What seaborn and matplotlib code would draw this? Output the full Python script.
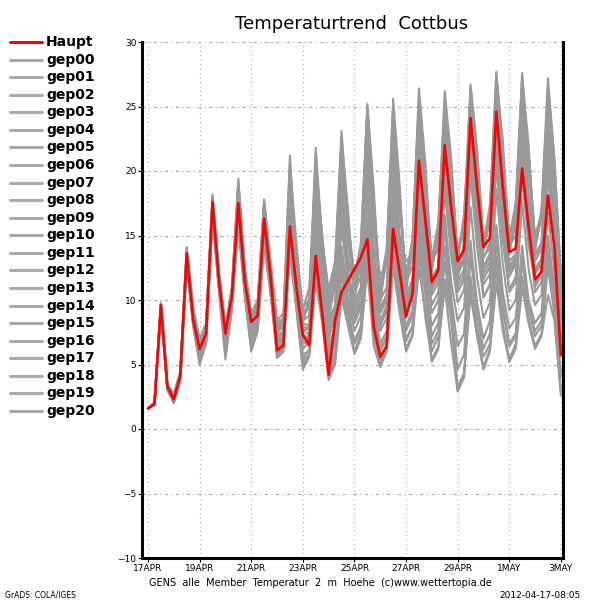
import pandas as pd
import matplotlib
matplotlib.use("Agg")
import matplotlib.pyplot as plt
from matplotlib.lines import Line2D
import seaborn as sns

# 6-hourly ensemble run, 17 Apr 00Z .. 3 May 00Z
times = pd.date_range("2012-04-17 00:00", periods=65, freq="6h")
tick_dates = pd.date_range("2012-04-17", "2012-05-03", freq="2D")
tick_labels = ["17APR", "19APR", "21APR", "23APR", "25APR", "27APR", "29APR", "1MAY", "3MAY"]
y_ticks = [-10, -5, 0, 5, 10, 15, 20, 25, 30]

haupt = [1.6, 1.9, 9.6, 3.3, 2.3, 4.1, 13.6, 8.5, 6.2, 7.4, 17.6, 11.5, 7.4, 10.3, 17.5, 11.5,
         8.3, 8.8, 16.3, 11.8, 6.1, 6.5, 15.7, 11.0, 7.3, 6.5, 13.4, 9.0, 4.2, 8.4, 10.6, 11.5,
         12.4, 13.3, 14.7, 7.9, 5.6, 6.4, 15.5, 12.2, 8.7, 10.5, 20.8, 16.2, 11.4, 12.3, 22.0, 17.2,
         13.0, 13.9, 24.1, 18.8, 14.1, 14.8, 24.6, 18.8, 13.7, 14.0, 20.2, 15.7, 11.6, 12.2, 18.1, 14.1,
         5.7]

gep00 = [1.6, 2.0, 9.4, 3.2, 2.4, 4.2, 13.2, 8.6, 6.4, 7.6, 17.2, 11.2, 7.8, 10.6, 18.4, 12.0,
         8.6, 9.2, 16.8, 12.2, 7.0, 7.4, 17.2, 11.8, 8.0, 7.6, 16.4, 10.6, 6.8, 9.6, 18.2, 11.4,
         8.4, 9.8, 19.6, 12.6, 9.2, 10.4, 21.4, 14.2, 10.2, 11.4, 20.6, 15.0, 11.8, 12.6, 23.2, 16.4,
         12.4, 13.0, 21.8, 15.6, 11.2, 12.0, 22.6, 16.8, 12.6, 13.4, 24.8, 17.6, 12.0, 12.8, 21.4, 14.6,
         9.2]
gep01 = [1.6, 2.1, 9.8, 3.4, 2.6, 4.4, 14.0, 9.0, 6.8, 8.0, 18.0, 11.8, 8.0, 10.8, 19.2, 12.4,
         8.8, 9.6, 17.6, 12.8, 7.6, 8.2, 20.4, 13.0, 8.8, 9.4, 21.4, 13.2, 9.6, 12.6, 22.6, 17.0,
         10.4, 14.0, 25.2, 18.6, 9.8, 13.6, 25.6, 19.0, 10.6, 14.4, 26.4, 20.6, 12.2, 15.6, 26.2, 21.0,
         13.0, 16.4, 26.5, 21.6, 14.2, 17.4, 27.5, 22.4, 14.6, 17.6, 27.4, 22.0, 14.4, 17.0, 27.2, 21.0,
         11.6]
gep02 = [1.6, 1.9, 9.2, 3.0, 2.1, 3.9, 12.9, 8.2, 5.2, 6.8, 16.6, 10.8, 6.2, 9.4, 16.0, 10.6,
         6.4, 8.0, 14.6, 10.8, 5.6, 6.4, 14.2, 9.6, 4.8, 5.8, 12.2, 8.6, 4.0, 5.4, 11.0, 8.4,
         6.0, 7.4, 13.2, 7.2, 5.0, 6.2, 13.8, 9.4, 6.2, 7.4, 14.6, 10.4, 6.0, 7.2, 13.0, 8.8,
         3.2, 4.4, 11.4, 7.4, 4.8, 6.2, 12.4, 8.2, 5.4, 6.6, 11.8, 8.6, 6.4, 7.4, 12.6, 8.8,
         3.0]
gep03 = [1.6, 2.0, 9.5, 3.3, 2.3, 4.0, 13.4, 8.4, 6.0, 7.2, 17.4, 11.6, 7.2, 10.0, 17.0, 11.2,
         8.0, 9.0, 16.0, 11.4, 6.8, 7.2, 18.6, 12.4, 7.6, 8.0, 19.8, 12.2, 8.2, 9.4, 16.4, 12.0,
         9.6, 10.8, 22.4, 13.6, 10.0, 11.0, 19.6, 13.2, 9.0, 10.2, 22.4, 15.4, 11.0, 12.0, 20.4, 15.2,
         12.2, 13.2, 23.4, 17.0, 13.2, 14.4, 21.0, 16.2, 11.8, 12.8, 23.6, 17.0, 13.0, 14.0, 24.2, 16.4,
         10.4]
gep04 = [1.6, 1.9, 9.3, 3.2, 2.2, 4.0, 13.0, 8.8, 6.6, 7.8, 16.8, 11.0, 6.8, 9.8, 18.8, 11.8,
         7.2, 8.4, 17.0, 12.6, 8.2, 8.6, 16.2, 11.4, 6.2, 6.8, 14.8, 10.2, 7.4, 8.6, 20.2, 12.8,
         11.2, 12.4, 17.6, 11.8, 8.4, 9.6, 23.2, 14.6, 11.4, 12.6, 24.0, 16.2, 13.0, 14.0, 22.4, 16.0,
         10.6, 11.6, 25.0, 17.8, 12.6, 13.6, 25.8, 18.4, 14.2, 15.0, 21.6, 16.2, 11.0, 12.0, 23.0, 16.0,
         8.6]
gep05 = [1.6, 2.0, 9.6, 3.4, 2.5, 4.3, 13.8, 8.6, 5.6, 7.0, 17.0, 11.4, 7.0, 10.2, 17.8, 11.6,
         8.4, 9.4, 15.4, 11.0, 6.2, 6.8, 15.0, 10.4, 6.6, 7.0, 13.8, 9.6, 5.2, 7.2, 14.2, 10.2,
         8.2, 9.4, 16.4, 9.8, 6.6, 7.6, 17.2, 11.4, 7.6, 8.8, 16.4, 11.2, 8.0, 9.0, 15.6, 10.2,
         6.4, 7.4, 14.6, 9.8, 7.0, 8.4, 15.8, 10.6, 7.8, 8.6, 14.2, 10.0, 8.2, 9.0, 15.0, 10.8,
         5.8]
gep06 = [1.6, 1.9, 9.1, 3.1, 2.0, 3.8, 12.8, 8.0, 5.0, 6.6, 16.4, 10.6, 5.4, 9.2, 15.6, 10.2,
         6.0, 7.6, 14.2, 10.4, 5.8, 6.2, 13.6, 9.2, 4.6, 5.6, 11.4, 8.2, 3.8, 5.0, 10.2, 8.0,
         5.8, 7.0, 12.4, 6.4, 4.8, 6.0, 12.6, 9.0, 6.0, 7.2, 12.4, 9.2, 5.2, 6.2, 11.6, 8.4,
         3.0, 4.2, 10.4, 7.2, 4.6, 6.0, 11.4, 7.6, 5.2, 6.2, 11.0, 8.2, 6.2, 7.2, 10.4, 8.4,
         2.6]
gep07 = [1.6, 2.1, 9.7, 3.5, 2.7, 4.5, 14.1, 9.4, 7.0, 8.2, 18.2, 12.2, 8.0, 11.0, 19.4, 12.6,
         9.0, 10.0, 17.8, 13.0, 8.4, 9.0, 21.2, 13.0, 9.4, 10.0, 21.8, 14.6, 10.8, 13.0, 23.1, 15.8,
         12.0, 14.2, 24.6, 17.2, 10.0, 13.4, 24.4, 18.4, 10.8, 14.0, 25.6, 19.6, 12.8, 15.4, 25.4, 20.4,
         13.6, 16.0, 26.7, 21.8, 14.6, 16.8, 27.7, 21.0, 15.0, 17.0, 27.6, 20.6, 15.0, 16.6, 26.4, 20.8,
         12.0]
gep08 = [1.6, 2.0, 9.4, 3.3, 2.4, 4.1, 13.5, 8.7, 6.2, 7.5, 17.5, 11.6, 7.6, 10.4, 17.2, 11.4,
         8.2, 8.8, 16.4, 11.6, 6.4, 6.8, 16.8, 11.2, 7.4, 6.8, 13.8, 9.4, 4.6, 8.0, 12.4, 11.6,
         12.2, 13.0, 15.4, 8.6, 6.0, 7.0, 18.4, 12.8, 9.4, 10.8, 19.4, 14.2, 11.0, 12.0, 21.2, 16.0,
         12.0, 13.2, 22.6, 17.4, 13.4, 14.0, 23.4, 17.2, 13.0, 13.6, 19.4, 15.0, 11.2, 12.0, 19.6, 14.8,
         7.4]
gep09 = [1.6, 1.9, 9.5, 3.2, 2.2, 4.1, 13.3, 8.3, 5.8, 7.1, 17.1, 11.3, 7.2, 10.1, 16.6, 11.0,
         7.8, 8.6, 15.8, 11.2, 5.5, 6.0, 15.2, 10.6, 6.8, 6.4, 15.6, 10.8, 7.2, 8.8, 17.4, 11.8,
         8.8, 10.0, 20.6, 12.8, 8.0, 9.2, 21.8, 13.8, 9.8, 11.0, 23.0, 15.6, 11.4, 12.4, 24.6, 16.8,
         12.6, 13.6, 24.4, 17.6, 10.2, 11.2, 20.4, 15.0, 10.8, 11.8, 22.4, 15.8, 12.4, 13.2, 23.8, 15.8,
         9.8]
gep10 = [1.6, 2.0, 9.2, 3.1, 2.1, 3.9, 13.1, 8.1, 5.4, 6.9, 16.6, 10.9, 6.0, 9.6, 16.2, 10.8,
         6.8, 8.2, 15.0, 11.0, 6.0, 6.6, 14.6, 10.0, 5.4, 6.2, 13.0, 9.2, 4.4, 6.0, 12.0, 9.0,
         6.8, 8.0, 14.0, 8.0, 5.4, 6.6, 14.6, 10.0, 7.0, 8.0, 13.6, 8.6, 5.4, 6.4, 11.0, 6.6,
         2.9, 4.0, 11.8, 8.0, 5.6, 6.6, 13.4, 9.2, 6.4, 7.2, 13.0, 9.4, 7.2, 8.0, 13.6, 9.2,
         4.4]
gep11 = [1.6, 2.0, 9.6, 3.4, 2.5, 4.2, 13.7, 8.9, 6.6, 7.7, 17.8, 11.9, 7.6, 10.6, 18.0, 11.8,
         8.8, 9.8, 17.2, 12.4, 7.4, 8.0, 19.4, 12.6, 8.4, 8.8, 20.6, 15.0, 9.0, 11.6, 21.0, 15.4,
         10.8, 13.2, 23.6, 16.2, 11.0, 13.8, 22.8, 17.0, 12.0, 14.2, 21.6, 17.6, 12.6, 15.0, 24.0, 19.0,
         11.6, 14.6, 25.4, 19.6, 13.8, 16.2, 26.6, 20.8, 13.6, 16.0, 25.6, 20.2, 14.2, 16.4, 25.2, 19.4,
         11.0]
gep12 = [1.6, 1.9, 9.3, 3.2, 2.3, 4.0, 13.2, 8.5, 6.2, 7.3, 17.0, 11.2, 7.0, 10.0, 18.2, 11.8,
         8.2, 9.2, 16.6, 12.0, 6.6, 7.0, 17.8, 11.6, 7.8, 7.2, 17.2, 11.2, 7.8, 9.0, 19.2, 12.2,
         9.2, 10.4, 21.2, 13.2, 9.4, 10.4, 20.4, 13.6, 10.4, 11.6, 18.4, 13.4, 9.6, 10.6, 19.2, 14.0,
         11.0, 12.0, 20.4, 15.4, 12.0, 13.0, 24.0, 17.6, 12.4, 13.2, 25.8, 18.0, 13.6, 14.4, 22.4, 15.8,
         10.0]
gep13 = [1.6, 2.1, 9.8, 3.5, 2.6, 4.4, 13.9, 9.2, 6.8, 8.0, 17.9, 12.0, 7.8, 10.8, 18.6, 12.2,
         8.6, 9.6, 17.4, 12.6, 7.8, 8.4, 19.8, 12.8, 9.0, 9.6, 18.6, 12.6, 10.0, 10.8, 20.8, 13.2,
         11.6, 12.4, 23.0, 14.0, 12.0, 12.6, 21.6, 15.0, 13.0, 13.6, 24.8, 17.0, 13.0, 14.0, 23.8, 17.4,
         14.0, 15.0, 23.0, 17.6, 15.0, 16.0, 22.2, 17.6, 14.8, 15.6, 24.2, 18.0, 13.4, 14.2, 26.0, 18.4,
         12.0]
gep14 = [1.6, 2.0, 9.5, 3.3, 2.4, 4.2, 13.6, 8.7, 6.4, 7.6, 17.6, 11.6, 7.4, 10.4, 17.4, 11.4,
         8.0, 9.0, 16.2, 11.8, 6.2, 6.6, 15.8, 11.2, 7.2, 6.6, 14.6, 10.0, 5.8, 8.2, 15.6, 11.6,
         10.6, 11.8, 18.4, 10.6, 7.6, 8.6, 19.8, 13.2, 10.0, 11.2, 21.2, 15.0, 10.4, 11.4, 22.6, 16.2,
         12.0, 13.0, 22.2, 16.6, 11.6, 12.6, 23.4, 17.0, 12.2, 13.0, 21.4, 15.6, 10.6, 11.4, 20.8, 14.6,
         7.0]
gep15 = [1.6, 1.9, 9.4, 3.2, 2.2, 4.0, 13.0, 8.2, 5.6, 7.0, 16.8, 11.0, 6.6, 9.8, 16.8, 11.0,
         7.6, 8.4, 15.2, 11.0, 6.0, 6.4, 14.0, 10.0, 5.8, 6.0, 12.6, 8.8, 5.0, 6.8, 13.6, 9.8,
         7.6, 8.8, 15.6, 9.2, 6.2, 7.2, 16.4, 11.0, 8.0, 9.2, 17.6, 12.0, 7.2, 8.2, 16.6, 11.4,
         8.4, 9.4, 17.2, 11.8, 8.6, 9.8, 18.6, 12.8, 9.2, 10.0, 17.6, 12.4, 9.6, 10.4, 16.8, 12.2,
         6.4]
gep16 = [1.6, 2.0, 9.6, 3.4, 2.5, 4.3, 13.8, 9.0, 6.6, 7.8, 17.7, 11.8, 7.8, 10.8, 19.0, 12.2,
         8.4, 9.4, 17.4, 12.4, 7.2, 7.6, 18.2, 13.6, 8.2, 10.2, 19.0, 14.2, 8.4, 11.4, 20.2, 15.0,
         10.0, 13.0, 22.0, 16.4, 10.4, 13.2, 23.8, 17.6, 11.6, 14.6, 23.8, 18.8, 12.4, 15.2, 25.0, 19.4,
         13.4, 16.0, 25.8, 20.6, 14.0, 16.4, 24.4, 19.8, 14.0, 16.8, 26.6, 21.2, 14.6, 16.8, 24.2, 19.6,
         10.8]
gep17 = [1.6, 1.9, 9.2, 3.0, 2.0, 3.8, 12.9, 8.0, 5.2, 6.7, 16.6, 10.8, 6.0, 9.4, 16.4, 10.6,
         6.6, 7.8, 14.8, 10.6, 5.8, 6.4, 14.4, 9.8, 5.2, 5.8, 13.0, 9.0, 4.4, 5.8, 12.6, 9.2,
         6.6, 7.8, 14.4, 8.4, 5.4, 6.4, 15.0, 10.4, 6.8, 8.0, 15.6, 10.8, 6.6, 7.6, 14.2, 9.6,
         4.6, 5.8, 13.4, 9.0, 6.2, 7.4, 14.6, 9.8, 6.6, 7.4, 13.4, 9.6, 7.6, 8.4, 14.2, 10.0,
         4.0]
gep18 = [1.6, 2.0, 9.5, 3.3, 2.4, 4.2, 13.5, 8.8, 6.4, 7.6, 17.6, 11.6, 7.6, 10.4, 18.2, 11.8,
         8.6, 9.4, 16.8, 12.2, 7.0, 7.6, 18.0, 12.0, 8.2, 8.0, 18.2, 11.6, 8.4, 9.6, 17.6, 12.2,
         9.8, 11.0, 20.0, 12.4, 9.0, 10.0, 20.8, 13.8, 10.4, 11.4, 20.2, 14.4, 10.8, 11.8, 21.8, 15.4,
         11.4, 12.4, 23.8, 17.2, 12.4, 13.4, 22.0, 16.4, 12.0, 12.8, 23.2, 17.2, 12.2, 13.0, 22.6, 15.6,
         8.4]
gep19 = [1.6, 2.1, 9.7, 3.4, 2.6, 4.4, 13.9, 9.2, 6.8, 7.9, 18.0, 12.0, 7.8, 10.9, 19.0, 12.4,
         8.8, 9.8, 17.6, 12.8, 8.0, 8.6, 20.6, 14.4, 9.2, 11.0, 20.2, 15.0, 10.2, 12.6, 22.2, 16.2,
         11.4, 14.4, 25.0, 17.8, 11.0, 14.0, 25.0, 18.0, 11.8, 14.8, 25.4, 19.2, 13.2, 16.0, 24.8, 19.8,
         13.4, 16.6, 24.8, 20.2, 14.0, 17.0, 26.0, 21.4, 14.4, 17.2, 24.0, 20.6, 13.8, 16.8, 23.6, 20.0,
         11.4]
gep20 = [1.6, 2.0, 9.4, 3.2, 2.3, 4.0, 13.3, 8.4, 6.0, 7.2, 17.2, 11.4, 7.2, 10.0, 17.0, 11.2,
         7.8, 8.8, 16.0, 11.4, 6.6, 7.2, 16.6, 11.0, 7.0, 7.2, 15.0, 10.2, 6.2, 8.0, 16.8, 11.2,
         8.6, 9.8, 18.8, 11.6, 8.2, 9.2, 18.2, 12.4, 9.2, 10.4, 17.4, 12.6, 9.0, 10.0, 18.4, 13.4,
         9.8, 10.8, 19.6, 14.2, 10.2, 11.2, 20.6, 14.6, 10.6, 11.4, 19.8, 14.2, 11.4, 12.2, 20.2, 14.0,
         7.8]

members = {
    "gep00": gep00, "gep01": gep01, "gep02": gep02, "gep03": gep03, "gep04": gep04,
    "gep05": gep05, "gep06": gep06, "gep07": gep07, "gep08": gep08, "gep09": gep09,
    "gep10": gep10, "gep11": gep11, "gep12": gep12, "gep13": gep13, "gep14": gep14,
    "gep15": gep15, "gep16": gep16, "gep17": gep17, "gep18": gep18, "gep19": gep19,
    "gep20": gep20,
}

GRAY = "#999999"
RED = "#ff0000"

# long-format table for seaborn
frames = [pd.DataFrame({"time": times, "temp": vals, "member": name}) for name, vals in members.items()]
df = pd.concat(frames, ignore_index=True)
df_main = pd.DataFrame({"time": times, "temp": haupt})

sns.set_style("white")
plt.rcParams["font.family"] = ["DejaVu Sans"]
plt.rcParams["text.color"] = "black"
plt.rcParams["xtick.color"] = "black"
plt.rcParams["ytick.color"] = "black"

fig = plt.figure(figsize=(6, 6), dpi=100)
ax = fig.add_axes([142 / 600, 42 / 600, 421 / 600, 516 / 600])

sns.lineplot(data=df, x="time", y="temp", units="member", estimator=None,
             color=GRAY, lw=1.5, ax=ax, legend=False)
sns.lineplot(data=df_main, x="time", y="temp", color=RED, lw=1.9, ax=ax, legend=False)

ax.set_ylim(-10, 30)
ax.set_xlim(times[0] - pd.Timedelta(hours=5.6), times[-1] + pd.Timedelta(hours=2))
ax.set_yticks(y_ticks)
ax.set_yticklabels([str(v).replace("-", "\u2212") for v in y_ticks])
ax.set_xticks(tick_dates)
ax.set_xticklabels(tick_labels)
ax.set_xlabel("")
ax.set_ylabel("")
ax.tick_params(axis="both", labelsize=6.5, length=3, width=0.8, direction="out",
               left=True, bottom=True, pad=1, colors="black")

ax.grid(True, axis="y", color="#aaaaaa", ls=(0, (3, 3, 1, 3)), lw=0.8)
ax.grid(True, axis="x", color="#aaaaaa", ls=(0, (1, 3)), lw=0.8)
ax.set_axisbelow(True)

for side in ["left", "bottom", "right"]:
    ax.spines[side].set_visible(True)
    ax.spines[side].set_color("black")
    ax.spines[side].set_linewidth(2.2)
ax.spines["top"].set_visible(False)

# legend column on the left
names = ["Haupt"] + list(members.keys())
for k, name in enumerate(names):
    yy = 1 - (42 + k * 17.57) / 600
    col = RED if k == 0 else "#aaaaaa"
    fig.add_artist(Line2D([10 / 600, 42 / 600], [yy, yy], color=col, lw=2.2))
    fig.text(46 / 600, yy, name, fontsize=10, fontweight="bold", va="center", ha="left",
             color="black")

fig.text(352 / 600, 1 - 24 / 600, "Temperaturtrend  Cottbus", fontsize=13,
         ha="center", va="center", color="black")
fig.text(320 / 600, 1 - 583 / 600, "GENS  alle  Member  Temperatur  2  m  Hoehe  (c)www.wettertopia.de",
         fontsize=7, ha="center", va="center", color="black")
fig.text(581 / 600, 1 - 595 / 600, "2012-04-17-08:05", fontsize=6.5, ha="right", va="center",
         color="black")
fig.text(5 / 600, 1 - 595 / 600, "GrADS: COLA/IGES", fontsize=5.5, ha="left", va="center",
         color="black")

fig.savefig("out.png", dpi=100)
